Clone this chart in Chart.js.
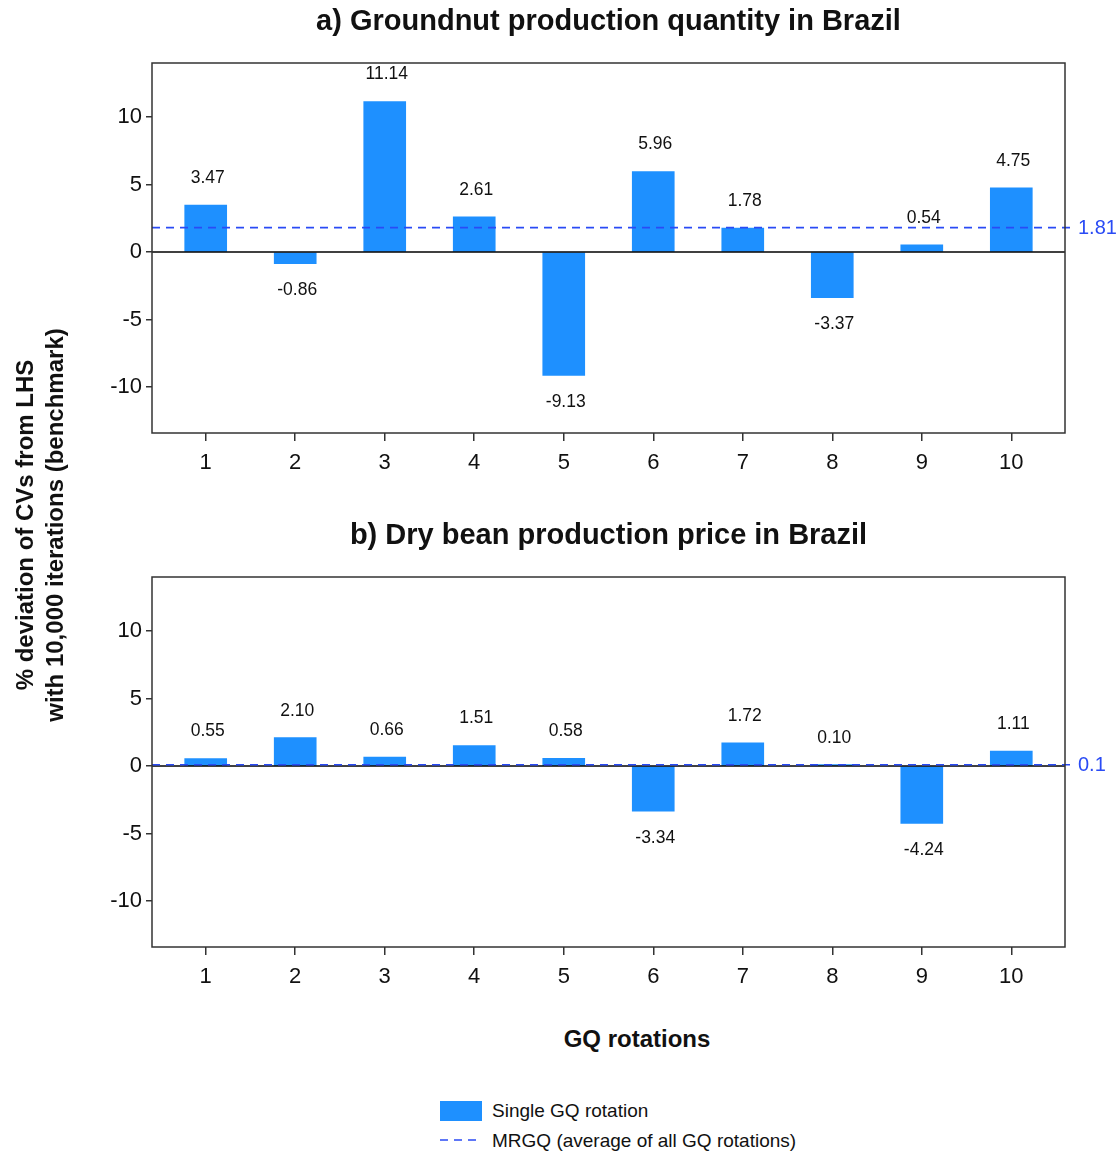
<!DOCTYPE html>
<html><head><meta charset="utf-8">
<script src="https://cdn.jsdelivr.net/npm/chart.js@4.4.0/dist/chart.umd.min.js"></script>
<style>
body{margin:0;background:#fff;width:1120px;height:1153px;position:relative;overflow:hidden;font-family:"Liberation Sans",Arial,sans-serif;color:#111;}
canvas{position:absolute;left:0;}
#ytitle{position:absolute;left:-210px;top:495px;width:500px;height:60px;transform:rotate(-90deg);transform-origin:250px 30px;text-align:center;font-weight:bold;font-size:24px;line-height:30px;}
#xtitle{position:absolute;left:517px;top:1025px;width:240px;text-align:center;font-weight:bold;font-size:24px;}
.lg{position:absolute;font-size:19px;}
</style></head>
<body>
<canvas id="ca" width="1120" height="500" style="top:0"></canvas>
<canvas id="cb" width="1120" height="500" style="top:514px"></canvas>
<div id="ytitle">% deviation of CVs from LHS<br>with 10,000 iterations (benchmark)</div>
<div id="xtitle">GQ rotations</div>
<div class="lg" style="left:440px;top:1101px;width:42px;height:20px;background:#1E90FF;"></div>
<div class="lg" style="left:492px;top:1100px;">Single GQ rotation</div>
<svg class="lg" style="left:438px;top:1134px;" width="44" height="12"><line x1="2" y1="6" x2="42" y2="6" stroke="#2a4bf5" stroke-width="1.6" stroke-dasharray="8,6"/></svg>
<div class="lg" style="left:492px;top:1130px;">MRGQ (average of all GQ rotations)</div>
<script>
const rotations = [1,2,3,4,5,6,7,8,9,10];
const groundnutValues = [3.47,-0.86,11.14,2.61,-9.13,5.96,1.78,-3.37,0.54,4.75];
const groundnutMean = 1.81;
const groundnutMeanLabel = "1.81";
const beanValues = [0.55,2.10,0.66,1.51,0.58,-3.34,1.72,0.10,-4.24,1.11];
const beanMean = 0.1;
const beanMeanLabel = "0.1";
const yTicks = [-10,-5,0,5,10];
const titleA = "a) Groundnut production quantity in Brazil";
const titleB = "b) Dry bean production price in Brazil";

const FONT = '"Liberation Sans", Arial, sans-serif';
const BAR = '#1E90FF';
const MEANC = '#2a4bf5';

function makeChart(id, values, mean, meanLabel, title){
  const overlay = {
    id:'overlay',
    afterDatasetsDraw(chart){
      const ctx = chart.ctx, a = chart.chartArea, x = chart.scales.x, y = chart.scales.y;
      ctx.save();
      const y0 = y.getPixelForValue(0);
      ctx.strokeStyle = '#000'; ctx.lineWidth = 1.5;
      ctx.beginPath(); ctx.moveTo(a.left, y0); ctx.lineTo(a.right, y0); ctx.stroke();
      const ym = y.getPixelForValue(mean);
      ctx.strokeStyle = MEANC; ctx.lineWidth = 1.6; ctx.setLineDash([8,6]);
      ctx.beginPath(); ctx.moveTo(a.left, ym); ctx.lineTo(a.right + 10, ym); ctx.stroke();
      ctx.setLineDash([]);
      ctx.fillStyle = MEANC; ctx.font = '20px ' + FONT; ctx.textAlign = 'left'; ctx.textBaseline = 'middle';
      ctx.fillText(meanLabel, a.right + 13, ym + 1);
      ctx.strokeStyle = '#333'; ctx.lineWidth = 1.5;
      ctx.strokeRect(a.left, a.top, a.right - a.left, a.bottom - a.top);
      ctx.fillStyle = '#111'; ctx.font = '17.5px ' + FONT; ctx.textAlign = 'center';
      values.forEach((v,i)=>{
        const px = x.getPixelForValue(rotations[i]) + 2;
        const py = y.getPixelForValue(v) + (v >= 0 ? -27 : 27);
        ctx.fillText(v.toFixed(2), px, py);
      });
      ctx.fillStyle = '#111'; ctx.font = 'bold 29px ' + FONT; ctx.textAlign = 'center';
      ctx.fillText(title, (a.left + a.right)/2, 22);
      ctx.restore();
    }
  };
  return new Chart(document.getElementById(id), {
    type:'bar',
    data:{ datasets:[{ label:'Single GQ rotation', data: rotations.map((r,i)=>({x:r, y:values[i]})), backgroundColor:BAR, borderWidth:0, barThickness:42 }] },
    options:{
      responsive:false, animation:false,
      layout:{ padding:{ top:63, right:55, left:0, bottom:0 } },
      plugins:{ legend:{display:false}, tooltip:{enabled:false} },
      scales:{
        x:{ type:'linear', min:0.4, max:10.6, offset:false,
            afterBuildTicks(s){ s.ticks = rotations.map(v=>({value:v})); },
            afterFit(s){ s.height = 67; },
            grid:{ offset:false, drawOnChartArea:false, tickLength:8, color:'#333', lineWidth:1.5 },
            border:{ display:false },
            ticks:{ font:{ size:22, family:FONT }, color:'#111', padding:9, maxRotation:0 } },
        y:{ type:'linear', min:-13.4, max:14,
            afterBuildTicks(s){ s.ticks = yTicks.map(v=>({value:v})); },
            afterFit(s){ s.width = 152; },
            grid:{ drawOnChartArea:false, tickLength:6, color:'#333', lineWidth:1.5 },
            border:{ display:false },
            ticks:{ font:{ size:22, family:FONT }, color:'#111', padding:4 } }
      }
    },
    plugins:[overlay]
  });
}
makeChart('ca', groundnutValues, groundnutMean, groundnutMeanLabel, titleA);
makeChart('cb', beanValues, beanMean, beanMeanLabel, titleB);
</script>
</body></html>
